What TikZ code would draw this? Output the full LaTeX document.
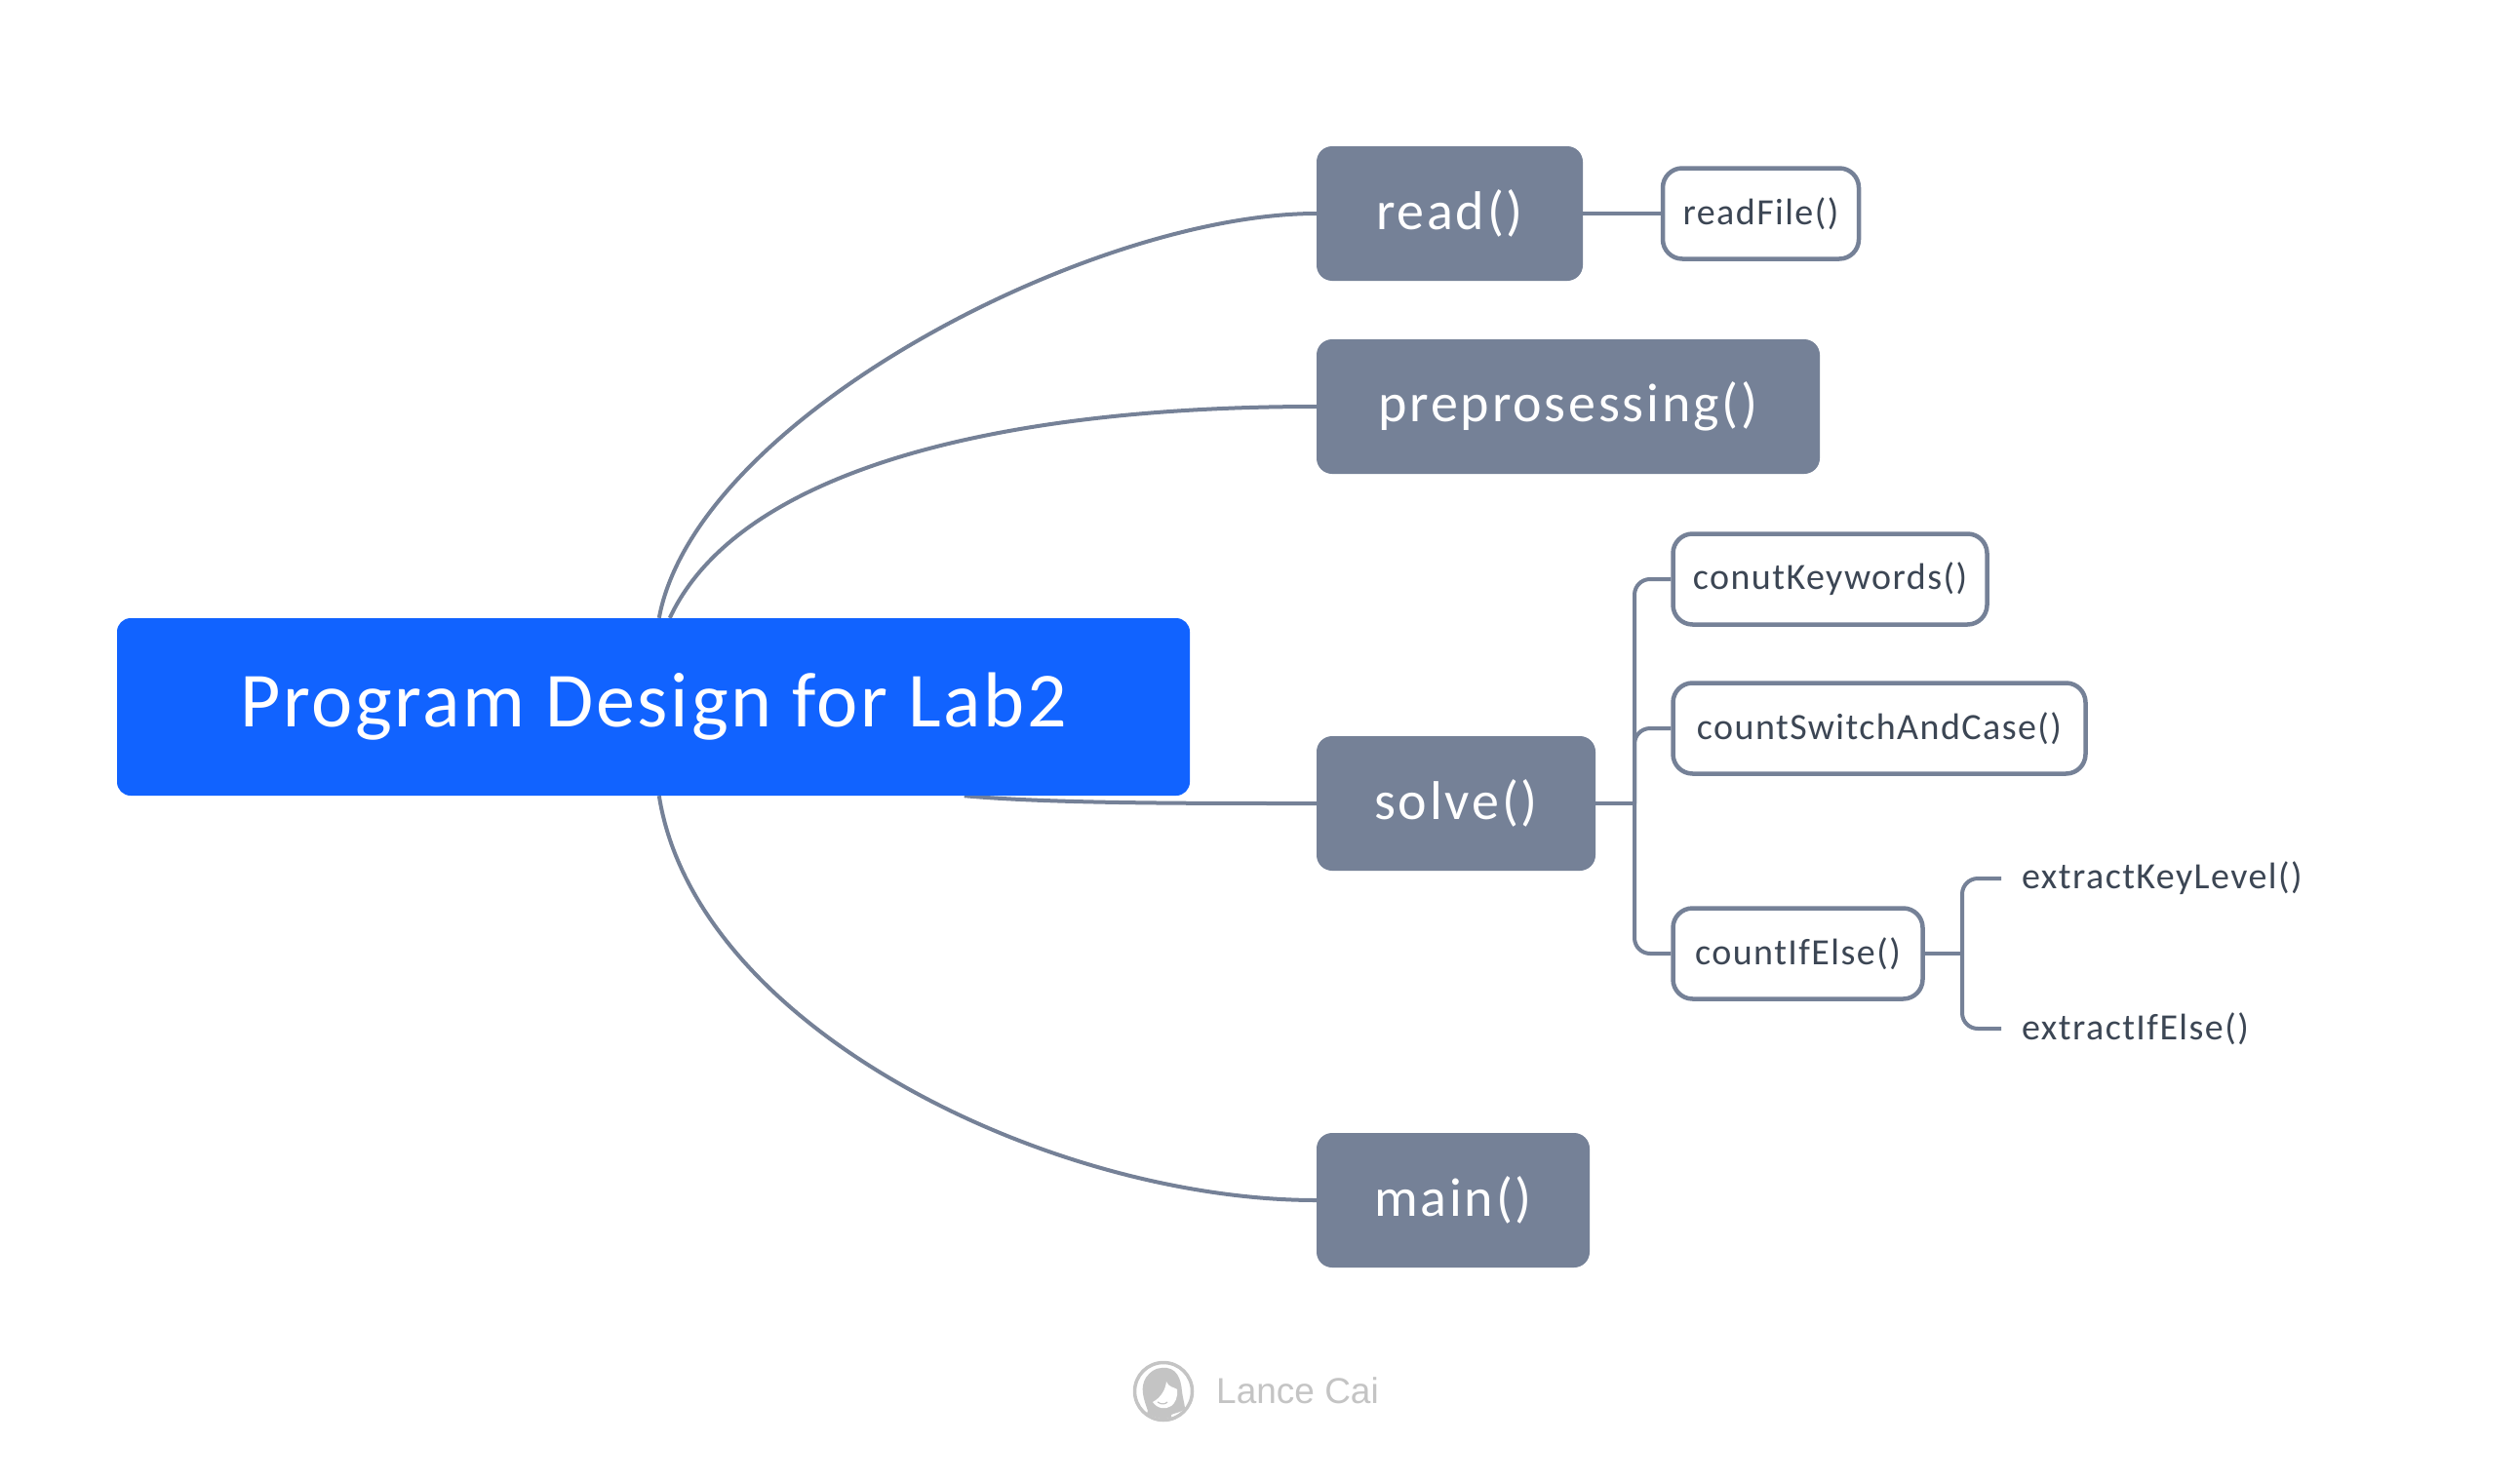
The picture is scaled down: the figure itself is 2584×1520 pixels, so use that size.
\documentclass[tikz,border=0pt]{standalone}
\usepackage{fontspec}
\setmainfont{Carlito}
\newfontfamily\rootfont[LetterSpace=3.4]{Carlito}
\newfontfamily\mainfont[LetterSpace=5]{Carlito}
\newfontfamily\subfont[LetterSpace=3.8]{Carlito}
\newfontfamily\logofont{Liberation Sans}
\usetikzlibrary{calc,backgrounds}
\definecolor{slate}{HTML}{758197}
\definecolor{rootblue}{HTML}{1163FF}
\definecolor{inktext}{HTML}{3C4654}
\definecolor{logogray}{HTML}{C4C4C4}
\tikzset{
  rootbox/.style={fill=rootblue,text=white,rounded corners=14pt,minimum width=1100pt,minimum height=182pt,inner sep=0pt,font=\rootfont\fontsize{80}{90}\selectfont},
  mainbox/.style={fill=slate,text=white,rounded corners=16pt,minimum height=138pt,inner sep=0pt,font=\mainfont\fontsize{56}{66}\selectfont},
  subbox/.style={draw=slate,line width=4.5pt,fill=white,text=inktext,rounded corners=20pt,minimum height=93pt,inner sep=0pt,font=\subfont\fontsize{38}{46}\selectfont},
  leaftext/.style={text=inktext,inner ysep=0pt,inner xsep=21pt,anchor=west,font=\subfont\fontsize{38}{46}\selectfont},
  link/.style={draw=slate,line width=4pt},
  bracket/.style={draw=slate,line width=4pt,rounded corners=16pt},
}
\begin{document}
\begin{tikzpicture}[x=1pt,y=-1pt]
\useasboundingbox (0,0) rectangle (2584,1520);

\node[rootbox] (root) at (670,725) {\raisebox{-3pt}{Program Design for Lab2}};
\node[mainbox,minimum width=273pt] (read) at (1486.5,219) {read()};
\node[mainbox,minimum width=516pt] (prep) at (1608,417) {preprosessing()};
\node[mainbox,minimum width=286pt] (solve) at (1493,824) {solve()};
\node[mainbox,minimum width=280pt] (mainf) at (1490,1231) {main()};

\node[subbox,minimum width=201pt] (rf) at (1805.5,219) {readFile()};
\node[subbox,minimum width=322pt] (ck) at (1876.5,594) {conutKeywords()};
\node[subbox,minimum width=423pt] (cs) at (1927,747) {countSwitchAndCase()};
\node[subbox,minimum width=256pt] (ci) at (1843.5,978) {countIfElse()};
\node[leaftext] (ek) at (2052,901) {extractKeyLevel()};
\node[leaftext] (ei) at (2052,1055) {extractIfElse()};

\coordinate (j1) at (1676,824);
\coordinate (j2) at (2012,978);

\begin{scope}[on background layer]
  \fill[white] (0,0) rectangle (2584,1520);
  \draw[link] ($(root.north west)+(556,0)$) .. controls +(38,-205) and +(-230,0) .. (read.west);
  \draw[link] ($(root.north west)+(567,0)$) .. controls +(70,-150) and +(-330,0) .. (prep.west);
  \draw[link] ($(root.south west)+(869,0)$) .. controls +(90,8) and +(-130,0) .. (solve.west);
  \draw[link] ($(root.south west)+(556,0)$) .. controls +(38,240) and +(-270,0) .. (mainf.west);
\end{scope}

\draw[link] (read.east) -- (rf.west);
\draw[link] (solve.east) -- (j1);
\draw[bracket] (j1) |- (ck.west);
\draw[bracket] (j1) |- (cs.west);
\draw[bracket] (j1) |- (ci.west);
\draw[link] (ci.east) -- (j2);
\draw[bracket] (j2) |- (ek.west);
\draw[bracket] (j2) |- (ei.west);

% signature mark
\begin{scope}[shift={(1193,1427)}]
  \draw[logogray,line width=3.5pt] (0,0) circle (29.5pt);
  \begin{scope}
    \clip (0,0) circle (28pt);
    \fill[logogray] (-2,-24) .. controls (14,-26) and (18,-12) .. (19,0)
      .. controls (20,8) and (22,14) .. (22,18) .. controls (14,24) and (6,22) .. (8,26)
      -- (24,40) -- (-24,40) -- (-16,20) .. controls (-21,6) and (-24,-4) .. (-18,-14)
      .. controls (-14,-20) and (-8,-24) .. (-2,-24) -- cycle;
    \fill[white] (3,-10) .. controls (5,-4) and (12,-4) .. (14,-2)
      .. controls (15,6) and (12,12) .. (8,15) .. controls (2,19) and (-6,18) .. (-11,11)
      .. controls (-2,6) and (2,-2) .. (3,-10) -- cycle;
    \draw[logogray,line width=1.2pt] (-6,11) .. controls (-2,14) and (2,13) .. (4,11);
  \end{scope}
\end{scope}
\node[text=logogray,anchor=base west,inner sep=0pt,font=\logofont\fontsize{37}{42}\selectfont] (sig) at (1247,1439) {Lance Cai};
\end{tikzpicture}
\end{document}
